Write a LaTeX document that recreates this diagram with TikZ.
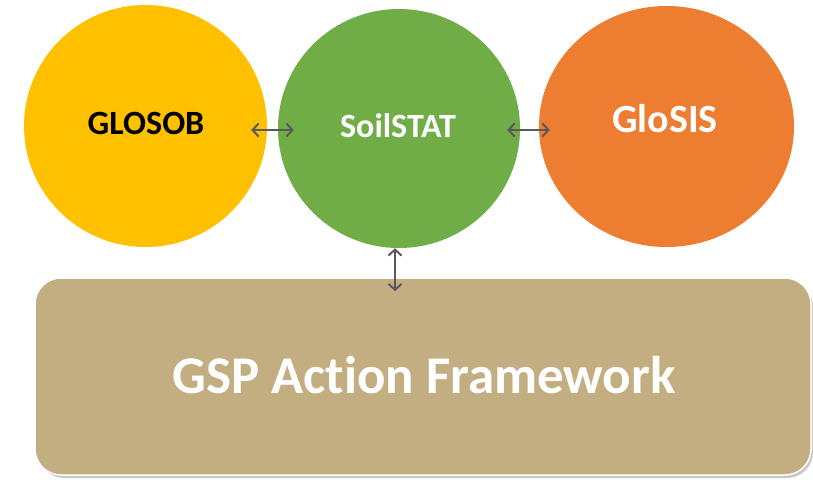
\documentclass[tikz,border=0pt]{standalone}
\usepackage{fontspec}
\setmainfont{Carlito}[Ligatures=NoCommon]
\usetikzlibrary{arrows.meta,shapes.geometric}
\definecolor{cyellow}{HTML}{FFC000}
\definecolor{cgreen}{HTML}{70AD47}
\definecolor{corange}{HTML}{ED7D31}
\definecolor{ctan}{HTML}{C3AE81}
\definecolor{carrow}{HTML}{595959}
\tikzset{
  blob/.style={ellipse, inner sep=0pt, draw=none},
  lbl/.style={anchor=base, inner sep=0pt},
  biarrow/.style={draw=carrow, line width=2.2pt,
    {Straight Barb[length=6pt,width=13pt,line width=2pt]}-{Straight Barb[length=6pt,width=13pt,line width=2pt]}},
}
\begin{document}
\begin{tikzpicture}[x=1pt,y=-1pt]
\useasboundingbox (0,0) rectangle (813,479);
% ellipses
\node[blob, fill=cyellow, minimum width=243pt, minimum height=242pt] (glosob) at (145.5,126) {};
\node[blob, fill=cgreen, minimum width=242pt, minimum height=239pt] (soil) at (399,128.5) {};
\node[blob, fill=corange, minimum width=255pt, minimum height=241pt] (glosis) at (666.5,126.5) {};
% framework box
\fill[black, opacity=0.22, rounded corners=26pt] (38,281) rectangle (813,478);
\node[draw=white, line width=1.5pt, fill=ctan, rounded corners=26pt, minimum width=776pt, minimum height=197pt, inner sep=0pt] (gsp) at (423,376.5) {};
% labels
\node[lbl, text=black, font=\bfseries\fontsize{34}{34}\selectfont] (tglosob) at (146,134) {GLOSOB};
\node[lbl, text=white, font=\bfseries\fontsize{34}{34}\selectfont] (tsoil) at (398,137) {SoilSTAT};
\node[lbl, text=white, font=\bfseries\fontsize{40}{40}\selectfont] (tglosis) at (665,132) {GloSIS};
\node[lbl, text=white, font=\bfseries\fontsize{53}{53}\selectfont] (tgsp) at (424,393) {GSP Action Framework};
% connectors
\draw[biarrow, shorten <=-16pt, shorten >=-16pt] ([yshift=-4pt]glosob.east) -- ([yshift=-1.5pt]soil.west);
\draw[biarrow, shorten <=-13pt, shorten >=-11pt] ([yshift=-1.5pt]soil.east) -- ([yshift=-3.5pt]glosis.west);
\draw[biarrow, shorten <=0pt, shorten >=-14pt] ([xshift=-4pt]soil.south) -- ([xshift=-28pt]gsp.north);
\end{tikzpicture}
\end{document}
